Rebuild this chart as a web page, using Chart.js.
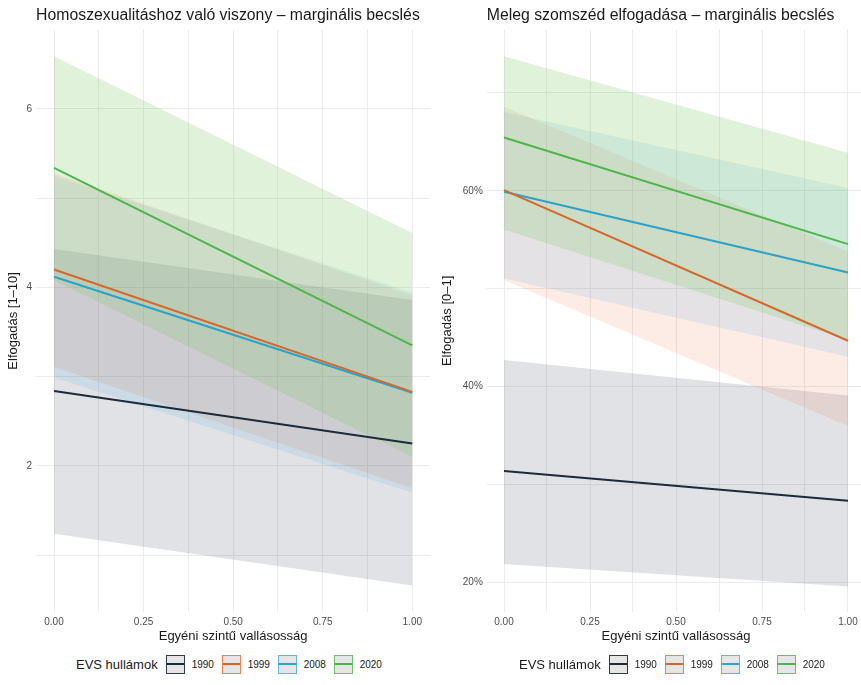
<!DOCTYPE html>
<html><head><meta charset="utf-8">
<script src="https://cdn.jsdelivr.net/npm/chart.js@4.4.1/dist/chart.umd.min.js"></script>
<style>
html,body{margin:0;padding:0;background:#fff;overflow:hidden;width:861px;height:685px;position:relative;font-family:"Liberation Sans",Arial,sans-serif}
canvas{position:absolute;top:0}
#c1{left:0}
#c2{left:430px}
.leg{position:absolute;top:654px;height:20px;display:flex;align-items:center;color:#1a1a1a;white-space:nowrap}
.leg .t{font-size:13px;margin-right:8px}
.leg .k{width:17px;height:17px;border:1.5px solid;background:#E6E6E6;position:relative;margin-right:7px}
.leg .k i{position:absolute;left:0;right:0;top:7.5px;height:2px}
.leg .l{font-size:10px;margin-right:7px;width:23px}
</style></head>
<body>
<canvas id="c1" width="432" height="650"></canvas>
<canvas id="c2" width="440" height="650"></canvas>
<div class="leg" id="leg1" style="left:76px"></div>
<div class="leg" id="leg2" style="left:519px"></div>
<script>
// ---- data ----
const waves = ['1990', '1999', '2008', '2020'];
const relig = [0, 1];
// Left panel: Homoszexualitáshoz való viszony (1–10)
const homoMid = [[2.84, 2.25], [4.20, 2.83], [4.12, 2.82], [5.34, 3.35]];
const homoLo  = [[1.24, 0.66], [3.11, 1.75], [2.99, 1.70], [4.08, 2.10]];
const homoHi  = [[4.43, 3.86], [5.28, 3.91], [5.25, 3.94], [6.59, 4.61]];
// Right panel: Meleg szomszéd elfogadása (0–1)
const nbrMid = [[0.314, 0.2837], [0.6007, 0.447], [0.599, 0.5167], [0.6545, 0.5456]];
const nbrLo  = [[0.219, 0.196], [0.509, 0.360], [0.5106, 0.4306], [0.5606, 0.4477]];
const nbrHi  = [[0.4273, 0.391], [0.686, 0.538], [0.6806, 0.603], [0.7374, 0.6388]];
// tick / grid positions
const xGrid = [0, 0.125, 0.25, 0.375, 0.5, 0.625, 0.75, 0.875, 1];
const homoGrid = [1, 2, 3, 4, 5, 6];
const nbrGrid = [0.2, 0.3, 0.4, 0.5, 0.6, 0.7];

// ---- styles ----
const lineColors = ['#1B2B3B', '#D4682A', '#2BA3C8', '#4CB748'];
const bandColors = ['rgba(100,110,130,0.2)', 'rgba(235,100,50,0.12)', 'rgba(60,165,220,0.13)', 'rgba(125,200,100,0.24)'];
const keyBorders = ['#2E3D4D', '#F07E4C', '#5DB7E6', '#6CC262'];

Chart.defaults.font.family = '"Liberation Sans", Arial, sans-serif';

function buildDatasets(mid, lo, hi) {
  const ds = [];
  // lines first => drawn on top
  waves.forEach((w, i) => ds.push({
    label: w, data: relig.map((x, j) => ({x, y: mid[i][j]})),
    borderColor: lineColors[i], borderWidth: 2, pointRadius: 0, fill: false
  }));
  // bands in reverse so that 1990 is painted first and 2020 last
  for (let i = waves.length - 1; i >= 0; i--) {
    const w = waves[i];
    ds.push({label: w + ' hi', data: relig.map((x, j) => ({x, y: hi[i][j]})),
      borderColor: 'transparent', borderWidth: 0, pointRadius: 0, fill: false});
    ds.push({label: w + ' lo', data: relig.map((x, j) => ({x, y: lo[i][j]})),
      borderColor: 'transparent', borderWidth: 0, pointRadius: 0, fill: '-1', backgroundColor: bandColors[i]});
  }
  return ds;
}

const gridOpt = {color: '#EBEBEB', lineWidth: 1, drawTicks: false};
const tickFont = {size: 10};
const tickColor = '#4D4D4D';

function makeChart(id, cfg) {
  return new Chart(document.getElementById(id), {
    type: 'line',
    data: {datasets: buildDatasets(cfg.mid, cfg.lo, cfg.hi)},
    options: {
      responsive: false, animation: false, devicePixelRatio: 1,
      layout: {padding: {left: 0, right: cfg.padRight, top: 0, bottom: 0}},
      plugins: {
        legend: {display: false}, tooltip: {enabled: false},
        title: {display: true, text: cfg.title, align: 'start', fullSize: false,
          font: {size: 15.8, weight: 'normal'}, color: '#1a1a1a', padding: {top: 6, bottom: 4.8}}
      },
      scales: {
        x: {
          type: 'linear', min: -0.05, max: 1.05,
          afterBuildTicks: s => { s.ticks = xGrid.map(v => ({value: v})); },
          afterFit: s => { s.height = 38; },
          ticks: {autoSkip: false, maxRotation: 0, padding: 4, font: tickFont, color: tickColor,
            callback: v => (Math.abs(v * 4 - Math.round(v * 4)) < 1e-9 ? Number(v).toFixed(2) : '')},
          grid: gridOpt, border: {display: false},
          title: {display: true, text: 'Egyéni szintű vallásosság', font: {size: 13}, color: '#1a1a1a',
            padding: {top: 0, bottom: 6}}
        },
        y: {
          type: 'linear', min: cfg.ymin, max: cfg.ymax,
          afterBuildTicks: s => { s.ticks = cfg.grid.map(v => ({value: v})); },
          afterFit: s => { s.width = cfg.yWidth; },
          ticks: {autoSkip: false, padding: 4, font: tickFont, color: tickColor, callback: cfg.fmt},
          grid: gridOpt, border: {display: false},
          title: {display: true, text: cfg.ytitle, font: {size: 13}, color: '#1a1a1a',
            padding: {top: cfg.yTitlePad, bottom: 0}}
        }
      }
    }
  });
}

makeChart('c1', {
  mid: homoMid, lo: homoLo, hi: homoHi,
  title: 'Homoszexualitáshoz való viszony – marginális becslés',
  ytitle: 'Elfogadás [1–10]', ymin: 0.363, ymax: 6.887, grid: homoGrid,
  fmt: v => (Math.round(v) % 2 === 0 ? String(Math.round(v)) : ''),
  yWidth: 36.1, yTitlePad: 6, padRight: 1.8
});
makeChart('c2', {
  mid: nbrMid, lo: nbrLo, hi: nbrHi,
  title: 'Meleg szomszéd elfogadása – marginális becslés',
  ytitle: 'Elfogadás [0–1]', ymin: 0.170, ymax: 0.7645, grid: nbrGrid,
  fmt: v => (Math.round(v * 10) % 2 === 0 ? Math.round(v * 100) + '%' : ''),
  yWidth: 56.8, yTitlePad: 10, padRight: 4.8
});

function legend(id) {
  const el = document.getElementById(id);
  let html = '<span class="t">EVS hullámok</span>';
  waves.forEach((w, i) => {
    html += '<span class="k" style="border-color:' + keyBorders[i] + '"><i style="background:' + lineColors[i] + '"></i></span><span class="l">' + w + '</span>';
  });
  el.innerHTML = html;
}
legend('leg1'); legend('leg2');
</script>
</body></html>
